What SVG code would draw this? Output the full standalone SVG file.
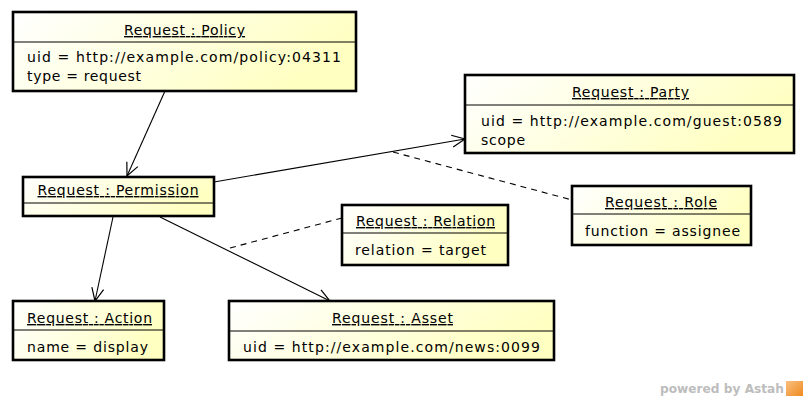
<svg xmlns="http://www.w3.org/2000/svg" width="808" height="400" viewBox="0 0 808 400">
<defs>
<linearGradient id="fill" x1="0" y1="0" x2="1" y2="0.3">
<stop offset="0" stop-color="#FFFFFF"/>
<stop offset="1" stop-color="#FFFFC2"/>
</linearGradient>
<linearGradient id="logo" x1="0" y1="0" x2="1" y2="1">
<stop offset="0" stop-color="#F9C080"/>
<stop offset="1" stop-color="#F08A20"/>
</linearGradient>
<marker id="open" markerWidth="16" markerHeight="16" refX="14" refY="8" orient="auto" markerUnits="userSpaceOnUse">
<path d="M1,2 L14,8 L1,14" fill="none" stroke="#000" stroke-width="1.2"/>
</marker>
</defs>
<style>
.box{fill:url(#fill);stroke:#000;stroke-width:2.6}
.sep{stroke:#000;stroke-width:1}
.t{font-family:"DejaVu Sans",sans-serif;font-size:14px;fill:#000}
.title{text-decoration:underline;text-anchor:middle}
.edge{fill:none;stroke:#000;stroke-width:1.1}
.dash{stroke-dasharray:6,5}
.wm{font-family:"DejaVu Sans",sans-serif;font-size:13px;font-weight:bold;fill:#BDBDBD}
</style>
<rect width="808" height="400" fill="#FFFFFF"/>
<g id="connectors">
<line class="edge" x1="165" y1="91" x2="127" y2="176" marker-end="url(#open)"/>
<line class="edge" x1="214" y1="182" x2="465" y2="139" marker-end="url(#open)"/>
<line class="edge" x1="113" y1="217" x2="95" y2="301" marker-end="url(#open)"/>
<line class="edge" x1="160" y1="217" x2="330" y2="301" marker-end="url(#open)"/>
<line class="edge dash" x1="393" y1="152" x2="572" y2="200"/>
<line class="edge dash" x1="230" y1="248" x2="342" y2="218"/>
</g>
<g id="policy">
<rect class="box" x="13" y="12" width="343" height="79"/>
<line class="sep" x1="13" y1="42" x2="356" y2="42"/>
<text class="t title" x="184.5" y="35" textLength="121" lengthAdjust="spacing">Request : Policy</text>
<text class="t" x="27" y="62" textLength="314" lengthAdjust="spacing">uid = http://example.com/policy:04311</text>
<text class="t" x="27" y="81" textLength="114" lengthAdjust="spacing">type = request</text>
</g>
<g id="permission">
<rect class="box" x="23" y="177" width="191" height="39"/>
<line class="sep" x1="23" y1="203" x2="214" y2="203"/>
<text class="t title" x="118" y="195" textLength="161" lengthAdjust="spacing">Request : Permission</text>
</g>
<g id="party">
<rect class="box" x="465" y="75" width="329" height="78"/>
<line class="sep" x1="465" y1="105" x2="794" y2="105"/>
<text class="t title" x="630.5" y="97" textLength="117" lengthAdjust="spacing">Request : Party</text>
<text class="t" x="481" y="126" textLength="301" lengthAdjust="spacing">uid = http://example.com/guest:0589</text>
<text class="t" x="481" y="145" textLength="44" lengthAdjust="spacing">scope</text>
</g>
<g id="role">
<rect class="box" x="572" y="186" width="179" height="59"/>
<line class="sep" x1="572" y1="214" x2="751" y2="214"/>
<text class="t title" x="661" y="207" textLength="112" lengthAdjust="spacing">Request : Role</text>
<text class="t" x="585" y="236" textLength="155" lengthAdjust="spacing">function = assignee</text>
</g>
<g id="relation">
<rect class="box" x="342" y="205" width="166" height="60"/>
<line class="sep" x1="342" y1="233" x2="508" y2="233"/>
<text class="t title" x="425.5" y="226" textLength="139" lengthAdjust="spacing">Request : Relation</text>
<text class="t" x="355" y="255" textLength="131" lengthAdjust="spacing">relation = target</text>
</g>
<g id="action">
<rect class="box" x="13" y="301" width="151" height="59"/>
<line class="sep" x1="13" y1="330" x2="164" y2="330"/>
<text class="t title" x="89.5" y="323" textLength="125" lengthAdjust="spacing">Request : Action</text>
<text class="t" x="27" y="352" textLength="121" lengthAdjust="spacing">name = display</text>
</g>
<g id="asset">
<rect class="box" x="229" y="301" width="325" height="59"/>
<line class="sep" x1="229" y1="331" x2="554" y2="331"/>
<text class="t title" x="392.5" y="323" textLength="121" lengthAdjust="spacing">Request : Asset</text>
<text class="t" x="243" y="352" textLength="297" lengthAdjust="spacing">uid = http://example.com/news:0099</text>
</g>
<g id="watermark">
<text class="wm" x="660" y="393" textLength="124" lengthAdjust="spacingAndGlyphs">powered by Astah</text>
<rect x="786" y="381" width="17" height="15" fill="url(#logo)"/>
</g>
</svg>
